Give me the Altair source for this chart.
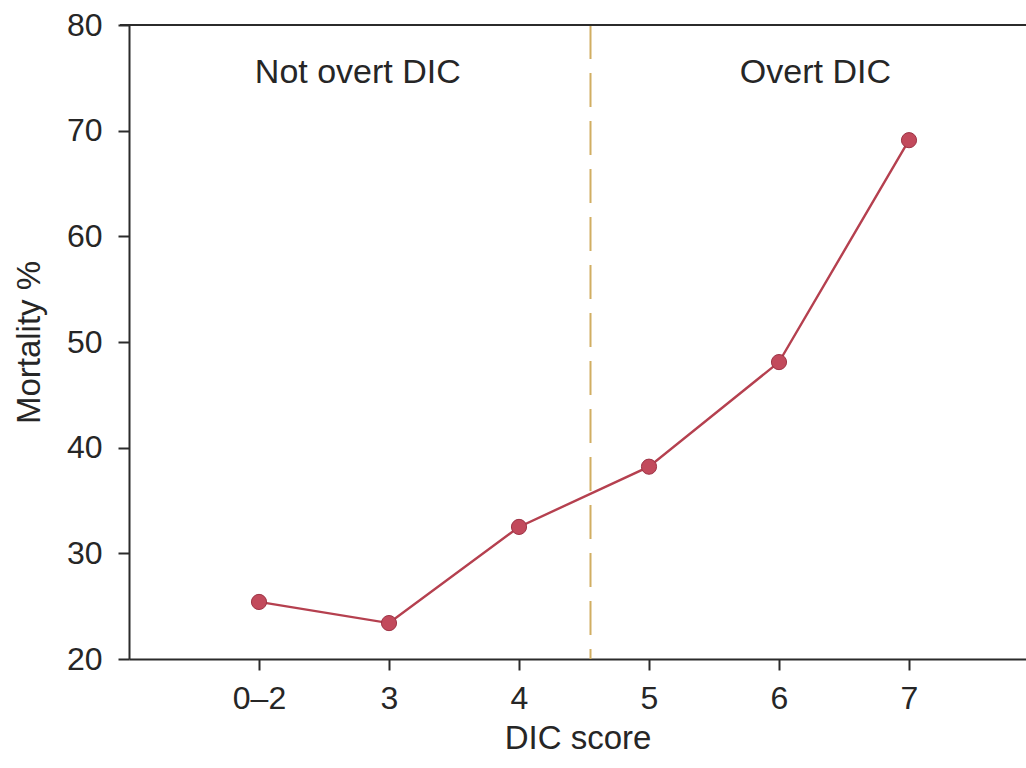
import altair as alt
import pandas as pd

# ---- data ----
categories = ["0–2", "3", "4", "5", "6", "7"]
score_pos = [2, 3, 4, 5, 6, 7]
mortality = [25.4, 23.4, 32.5, 38.2, 48.1, 69.1]

threshold = [4.55]
region_labels = ["Not overt DIC", "Overt DIC"]
region_x = [2.76, 6.28]
region_y = [74.5, 74.5]

FONT = "Liberation Sans"
AXIS_COLOR = "#2b2b2b"
LINE_COLOR = "#b5404f"
DASH_COLOR = "#d1ae62"
TEXT_COLOR = "#262626"

df = pd.DataFrame({"cat": categories, "x": score_pos, "y": mortality})
thr = pd.DataFrame({"x": threshold})
lab = pd.DataFrame({"text": region_labels, "x": region_x, "y": region_y})
top = pd.DataFrame({"y": [80]})

label_map = " : ".join(
    f"datum.value == {p} ? '{c}'" for p, c in zip(score_pos, categories)
) + " : ''"

xscale = alt.Scale(domain=[1, 7.9], nice=False, zero=False)
yscale = alt.Scale(domain=[20, 80], nice=False, zero=False)

xaxis = alt.Axis(
    values=score_pos,
    labelExpr=label_map,
    title="DIC score",
    grid=False,
    domainColor=AXIS_COLOR,
    domainWidth=2,
    tickColor=AXIS_COLOR,
    tickWidth=2,
    tickSize=11,
    labelFont=FONT,
    labelFontSize=32,
    labelColor=TEXT_COLOR,
    labelPadding=13,
    titleFont=FONT,
    titleFontSize=33,
    titleFontWeight="normal",
    titleColor=TEXT_COLOR,
    titlePadding=8,
)
yaxis = alt.Axis(
    values=[20, 30, 40, 50, 60, 70, 80],
    title="Mortality %",
    grid=False,
    domainColor=AXIS_COLOR,
    domainWidth=2,
    tickColor=AXIS_COLOR,
    tickWidth=2,
    tickSize=11,
    labelFont=FONT,
    labelFontSize=32,
    labelColor=TEXT_COLOR,
    labelPadding=16,
    titleFont=FONT,
    titleFontSize=33,
    titleFontWeight="normal",
    titleColor=TEXT_COLOR,
    titlePadding=20,
)

base = alt.Chart(df)

line = base.mark_line(color=LINE_COLOR, strokeWidth=2.4).encode(
    x=alt.X("x:Q", scale=xscale, axis=xaxis),
    y=alt.Y("y:Q", scale=yscale, axis=yaxis),
)
points = base.mark_circle(
    size=230, color="#c24a5c", opacity=1, stroke="#9e3446", strokeWidth=1
).encode(x=alt.X("x:Q", scale=xscale), y=alt.Y("y:Q", scale=yscale))

dash = alt.Chart(thr).mark_rule(
    color=DASH_COLOR, strokeWidth=2, strokeDash=[34, 14]
).encode(x=alt.X("x:Q", scale=xscale))

top_rule = alt.Chart(top).mark_rule(color=AXIS_COLOR, strokeWidth=2).encode(
    y=alt.Y("y:Q", scale=yscale),
    x=alt.value(-9),
    x2=alt.value(897),
)

text = alt.Chart(lab).mark_text(
    font=FONT, fontSize=34, color=TEXT_COLOR, align="center", baseline="alphabetic"
).encode(
    x=alt.X("x:Q", scale=xscale),
    y=alt.Y("y:Q", scale=yscale),
    text="text:N",
)

chart = (
    alt.layer(dash, top_rule, line, points, text)
    .properties(
        width=897,
        height=634,
        autosize=alt.AutoSizeParams(type="none"),
        padding={"left": 129, "top": 25, "right": 0, "bottom": 109},
        background="white",
    )
    .configure_view(stroke=None)
)

chart.save("out.html", embed_options={"renderer": "svg", "actions": False})
